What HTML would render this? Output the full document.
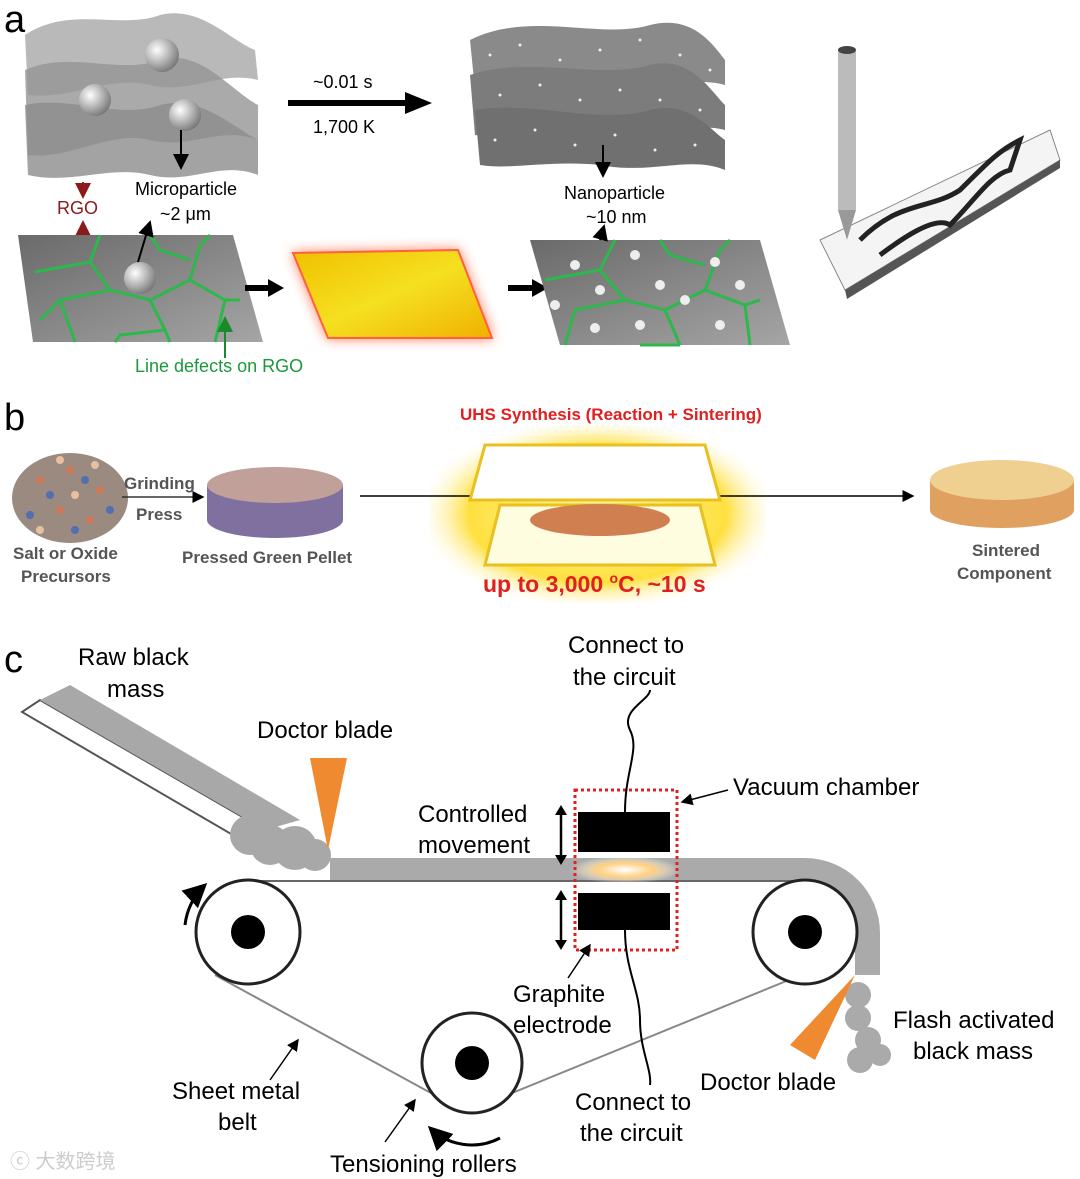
<!DOCTYPE html>
<html><head><meta charset="utf-8"><style>
html,body{margin:0;padding:0;background:#fff;}
svg{display:block;font-family:"Liberation Sans",Arial,sans-serif;}
</style></head><body>
<svg width="1080" height="1179" viewBox="0 0 1080 1179" xmlns="http://www.w3.org/2000/svg">
<defs>
<marker id="ah" markerWidth="8" markerHeight="8" refX="7" refY="4" orient="auto"><path d="M0,0 L8,4 L0,8 z" fill="#000"/></marker>
<marker id="ahr" markerWidth="8" markerHeight="8" refX="7" refY="4" orient="auto"><path d="M0,0 L8,4 L0,8 z" fill="#8b1a1a"/></marker>
<marker id="ahg" markerWidth="8" markerHeight="8" refX="7" refY="4" orient="auto"><path d="M0,0 L8,4 L0,8 z" fill="#1a8a2a"/></marker>
<radialGradient id="sph" cx="35%" cy="35%" r="70%"><stop offset="0" stop-color="#fff"/><stop offset="1" stop-color="#777"/></radialGradient>
<radialGradient id="glow" cx="50%" cy="50%" r="55%"><stop offset="0" stop-color="#fff8a0"/><stop offset="0.7" stop-color="#ffe040"/><stop offset="1" stop-color="#fff" stop-opacity="0"/></radialGradient>
<radialGradient id="spark" cx="50%" cy="50%" r="50%"><stop offset="0" stop-color="#fff"/><stop offset="0.5" stop-color="#ffd080"/><stop offset="1" stop-color="#fff" stop-opacity="0"/></radialGradient>
<linearGradient id="yel" x1="0" y1="0" x2="1" y2="1"><stop offset="0" stop-color="#f0c000"/><stop offset="0.5" stop-color="#f5e020"/><stop offset="1" stop-color="#f0b000"/></linearGradient>
<linearGradient id="gry" x1="0" y1="0" x2="1" y2="1"><stop offset="0" stop-color="#6a6a6a"/><stop offset="1" stop-color="#a5a5a5"/></linearGradient>
</defs>

<!-- Panel a -->
<text x="4" y="32" font-size="38">a</text>
<!-- left sheets -->
<path d="M25,35 C70,5 120,30 160,15 C200,5 230,40 255,50 L258,80 C220,70 190,95 150,85 C110,75 70,100 28,95 Z" fill="#a8a8a8" opacity="0.8"/>
<path d="M25,70 C70,50 120,75 160,60 C200,48 230,90 258,105 L258,140 C220,125 190,150 150,140 C110,130 70,160 28,155 Z" fill="#959595" opacity="0.8"/>
<path d="M25,105 C70,95 120,120 160,105 C200,95 230,125 258,140 L258,175 C220,160 190,185 150,175 C110,165 70,185 28,175 Z" fill="#8c8c8c" opacity="0.8"/>
<circle cx="162" cy="55" r="17" fill="url(#sph)"/>
<circle cx="95" cy="100" r="16" fill="url(#sph)"/>
<circle cx="185" cy="115" r="16" fill="url(#sph)"/>
<line x1="181" y1="130" x2="181" y2="168" stroke="#000" stroke-width="2" marker-end="url(#ah)"/>
<line x1="83" y1="182" x2="83" y2="197" stroke="#8b1a1a" stroke-width="2" marker-end="url(#ahr)"/>
<line x1="83" y1="248" x2="83" y2="222" stroke="#8b1a1a" stroke-width="2" marker-end="url(#ahr)"/>
<text x="57" y="214" font-size="18" fill="#8b1a1a">RGO</text>
<text x="135" y="195" font-size="18">Microparticle</text>
<text x="160" y="220" font-size="18">~2 μm</text>
<!-- left parallelogram -->
<polygon points="18,235 233,235 263,342 33,342" fill="url(#gry)"/>
<g stroke="#2cb84a" stroke-width="3" fill="none">
<path d="M35,272 L90,262 L100,235 M90,262 L110,290 L60,300 L40,320 M110,290 L150,300 L165,330 L170,342 M150,300 L190,280 L200,245 L210,235 M190,280 L225,300 L240,300 M160,250 L150,235 M160,250 L190,260 M60,300 L75,342 M165,330 L120,335 L115,342 M225,300 L215,342"/>
</g>
<circle cx="140" cy="278" r="16" fill="url(#sph)"/>
<line x1="138" y1="262" x2="150" y2="222" stroke="#000" stroke-width="2" marker-end="url(#ah)"/>
<line x1="225" y1="358" x2="225" y2="318" stroke="#1a8a2a" stroke-width="2" marker-end="url(#ahg)"/>
<text x="135" y="372" font-size="18" fill="#1a9a3a">Line defects on RGO</text>
<!-- arrows -->
<line x1="245" y1="288" x2="270" y2="288" stroke="#000" stroke-width="6"/><polygon points="268,279 284,288 268,297" fill="#000"/>
<line x1="288" y1="103" x2="410" y2="103" stroke="#000" stroke-width="6"/><polygon points="405,92 432,103 405,114" fill="#000"/>
<text x="313" y="88" font-size="18">~0.01 s</text>
<text x="313" y="133" font-size="18">1,700 K</text>
<!-- yellow -->
<polygon points="293,253 458,250 492,338 328,338" fill="url(#yel)" stroke="#ff6040" stroke-width="2" style="filter:drop-shadow(0 0 6px #ff8060)"/>
<line x1="508" y1="288" x2="535" y2="288" stroke="#000" stroke-width="6"/><polygon points="532,279 548,288 532,297" fill="#000"/>
<!-- right sheets -->
<path d="M470,40 C530,10 600,40 650,25 C690,15 710,40 725,60 L725,85 C690,75 650,95 600,85 C550,75 510,95 475,90 Z" fill="#8a8a8a"/>
<path d="M470,75 C530,55 600,80 650,65 C690,55 710,90 725,105 L725,130 C690,120 650,145 600,130 C550,120 510,140 475,135 Z" fill="#7c7c7c"/>
<path d="M475,110 C530,100 600,125 650,110 C690,100 710,130 725,140 L725,170 C690,155 650,175 600,165 C550,160 510,170 480,165 Z" fill="#707070"/>
<g fill="#eee">
<circle cx="490" cy="55" r="1.5"/><circle cx="520" cy="45" r="1.5"/><circle cx="560" cy="60" r="1.5"/><circle cx="600" cy="50" r="1.5"/><circle cx="640" cy="40" r="1.5"/><circle cx="680" cy="55" r="1.5"/><circle cx="710" cy="70" r="1.5"/>
<circle cx="500" cy="95" r="1.5"/><circle cx="540" cy="85" r="1.5"/><circle cx="580" cy="100" r="1.5"/><circle cx="620" cy="90" r="1.5"/><circle cx="660" cy="100" r="1.5"/><circle cx="700" cy="110" r="1.5"/>
<circle cx="495" cy="140" r="1.5"/><circle cx="535" cy="130" r="1.5"/><circle cx="575" cy="145" r="1.5"/><circle cx="615" cy="135" r="1.5"/><circle cx="655" cy="150" r="1.5"/><circle cx="695" cy="145" r="1.5"/>
</g>
<line x1="603" y1="145" x2="603" y2="176" stroke="#000" stroke-width="2" marker-end="url(#ah)"/>
<text x="564" y="199" font-size="18">Nanoparticle</text>
<text x="586" y="223" font-size="18">~10 nm</text>
<polygon points="530,240 760,240 790,345 560,345" fill="url(#gry)"/>
<g stroke="#2cb84a" stroke-width="3" fill="none">
<path d="M545,280 L600,270 L615,240 M600,270 L625,300 L575,310 L565,345 M625,300 L665,310 L680,345 M665,310 L705,290 L720,250 L730,240 M705,290 L745,305 L760,300 M670,255 L660,240 M670,255 L705,265 M680,345 L640,345 M745,305 L750,345"/>
</g>
<g fill="#eee"><circle cx="575" cy="265" r="5"/><circle cx="635" cy="255" r="5"/><circle cx="715" cy="262" r="5"/><circle cx="600" cy="290" r="5"/><circle cx="660" cy="285" r="5"/><circle cx="685" cy="300" r="5"/><circle cx="740" cy="285" r="5"/><circle cx="595" cy="328" r="5"/><circle cx="640" cy="325" r="5"/><circle cx="720" cy="325" r="5"/><circle cx="555" cy="305" r="5"/></g>
<line x1="600" y1="240" x2="604" y2="226" stroke="#000" stroke-width="2" marker-end="url(#ah)"/>
<!-- pen -->
<polygon points="820,240 1050,130 1060,160 845,290" fill="#f4f4f4" stroke="#888"/>
<polygon points="845,290 1060,160 1060,168 847,299" fill="#555"/>
<path d="M860,240 C900,200 930,210 960,190 C990,160 1000,150 1020,140 L1010,170 C990,175 975,200 950,225 C935,215 900,240 880,255" fill="none" stroke="#222" stroke-width="5"/>
<rect x="838" y="50" width="18" height="160" fill="#bbb"/>
<polygon points="838,210 856,210 847,240" fill="#999"/>
<ellipse cx="847" cy="50" rx="9" ry="4" fill="#444"/>

<!-- Panel b -->
<text x="4" y="430" font-size="38">b</text>
<g>
<ellipse cx="70" cy="498" rx="58" ry="45" fill="#9a8a80"/>
<g fill="#d0785a"><circle cx="40" cy="480" r="4"/><circle cx="70" cy="470" r="4"/><circle cx="100" cy="490" r="4"/><circle cx="60" cy="510" r="4"/><circle cx="90" cy="520" r="4"/></g>
<g fill="#5070b0"><circle cx="50" cy="495" r="4"/><circle cx="85" cy="480" r="4"/><circle cx="30" cy="515" r="4"/><circle cx="110" cy="510" r="4"/><circle cx="75" cy="530" r="4"/></g>
<g fill="#e8c0a0"><circle cx="60" cy="460" r="4"/><circle cx="95" cy="465" r="4"/><circle cx="40" cy="530" r="4"/><circle cx="75" cy="495" r="4"/></g>
</g>
<text x="124" y="489" font-size="17" font-weight="bold" fill="#555">Grinding</text>
<text x="136" y="520" font-size="17" font-weight="bold" fill="#555">Press</text>
<line x1="122" y1="497" x2="203" y2="497" stroke="#333" stroke-width="1.5" marker-end="url(#ah)"/>
<text x="13" y="559" font-size="17" font-weight="bold" fill="#555">Salt or Oxide</text>
<text x="21" y="582" font-size="17" font-weight="bold" fill="#555">Precursors</text>
<path d="M207,485 L207,520 A68,18 0 0 0 343,520 L343,485 Z" fill="#8070a0"/>
<ellipse cx="275" cy="485" rx="68" ry="18" fill="#c0a098"/>
<text x="182" y="563" font-size="17" font-weight="bold" fill="#555">Pressed Green Pellet</text>
<rect x="430" y="425" width="335" height="178" fill="url(#glow)"/>
<line x1="360" y1="496" x2="913" y2="496" stroke="#000" stroke-width="1.5" marker-end="url(#ah)"/>
<polygon points="485,445 705,445 720,500 470,500" fill="#fff" stroke="#e8c020" stroke-width="3"/>
<polygon points="500,505 700,505 715,565 485,565" fill="#fffde0" stroke="#e8c020" stroke-width="3"/>
<ellipse cx="600" cy="520" rx="70" ry="16" fill="#d08050"/>
<text x="460" y="420" font-size="17" font-weight="bold" fill="#e02020">UHS Synthesis (Reaction + Sintering)</text>
<text x="483" y="592" font-size="23" font-weight="bold" fill="#e02020">up to 3,000 <tspan font-size="14" dy="-9">o</tspan><tspan dy="9">C, ~10 s</tspan></text>
<path d="M930,480 L930,510 A72,18 0 0 0 1074,510 L1074,480 Z" fill="#e0a060"/>
<ellipse cx="1002" cy="480" rx="72" ry="20" fill="#f0d090"/>
<text x="972" y="556" font-size="17" font-weight="bold" fill="#555">Sintered</text>
<text x="957" y="579" font-size="17" font-weight="bold" fill="#555">Component</text>

<!-- Panel c -->
<text x="4" y="672" font-size="38">c</text>
<text x="78" y="665" font-size="24">Raw black</text>
<text x="107" y="697" font-size="24">mass</text>
<polygon points="22,712 40,700 265,830 250,845" fill="#fff" stroke="#555" stroke-width="2"/>
<polygon points="40,700 70,685 300,820 265,830" fill="#a8a8a8"/>
<g fill="#a8a8a8"><circle cx="250" cy="835" r="20"/><circle cx="270" cy="845" r="20"/><circle cx="295" cy="848" r="22"/><circle cx="315" cy="855" r="16"/></g>
<text x="257" y="738" font-size="24">Doctor blade</text>
<polygon points="310,758 347,758 328,850" fill="#f08a30"/>
<!-- belt -->
<path d="M330,858 L805,858 A75,75 0 0 1 880,933 L880,975 L855,975 L855,933 A50,50 0 0 0 805,882 L330,882 Z" fill="#aaa"/>
<line x1="248" y1="881" x2="805" y2="881" stroke="#666" stroke-width="2"/>
<line x1="215" y1="975" x2="440" y2="1098" stroke="#888" stroke-width="2"/>
<line x1="850" y1="955" x2="500" y2="1098" stroke="#888" stroke-width="2"/>
<circle cx="248" cy="932" r="52" fill="#fff" stroke="#222" stroke-width="3"/><circle cx="248" cy="932" r="17" fill="#000"/>
<circle cx="805" cy="932" r="52" fill="#fff" stroke="#222" stroke-width="3"/><circle cx="805" cy="932" r="17" fill="#000"/>
<circle cx="472" cy="1063" r="50" fill="#fff" stroke="#222" stroke-width="3"/><circle cx="472" cy="1063" r="17" fill="#000"/>
<path d="M185,925 A65,65 0 0 1 205,885" fill="none" stroke="#000" stroke-width="3" marker-end="url(#ah)"/>
<path d="M500,1138 A60,60 0 0 1 430,1128" fill="none" stroke="#000" stroke-width="3" marker-end="url(#ah)"/>
<!-- electrodes -->
<ellipse cx="625" cy="870" rx="55" ry="14" fill="url(#spark)"/>
<rect x="578" y="812" width="92" height="40" fill="#000"/>
<rect x="578" y="893" width="92" height="37" fill="#000"/>
<rect x="575" y="790" width="102" height="160" fill="none" stroke="#e02020" stroke-width="3" stroke-dasharray="3,3"/>
<path d="M625,812 C625,770 640,750 630,730 C620,710 650,700 650,690" fill="none" stroke="#000" stroke-width="2"/>
<path d="M625,930 C625,970 640,990 640,1020 C640,1050 652,1070 650,1085" fill="none" stroke="#000" stroke-width="2"/>
<text x="568" y="653" font-size="24">Connect to</text>
<text x="573" y="685" font-size="24">the circuit</text>
<text x="733" y="795" font-size="24">Vacuum chamber</text>
<line x1="728" y1="790" x2="682" y2="802" stroke="#000" stroke-width="1.5" marker-end="url(#ah)"/>
<text x="418" y="822" font-size="24">Controlled</text>
<text x="418" y="853" font-size="24">movement</text>
<line x1="561" y1="812" x2="561" y2="858" stroke="#000" stroke-width="2.5"/><polygon points="555,815 561,805 567,815" fill="#000"/><polygon points="555,855 561,865 567,855" fill="#000"/>
<line x1="561" y1="897" x2="561" y2="942" stroke="#000" stroke-width="2.5"/><polygon points="555,900 561,890 567,900" fill="#000"/><polygon points="555,940 561,950 567,940" fill="#000"/>
<line x1="568" y1="978" x2="590" y2="945" stroke="#000" stroke-width="1.5" marker-end="url(#ah)"/>
<text x="513" y="1002" font-size="24">Graphite</text>
<text x="513" y="1033" font-size="24">electrode</text>
<g fill="#aaa"><circle cx="858" cy="995" r="13"/><circle cx="858" cy="1018" r="13"/><circle cx="868" cy="1040" r="13"/><circle cx="860" cy="1060" r="13"/><circle cx="880" cy="1055" r="11"/></g>
<polygon points="855,975 790,1045 815,1060" fill="#f08a30"/>
<text x="893" y="1028" font-size="24">Flash activated</text>
<text x="913" y="1059" font-size="24">black mass</text>
<text x="700" y="1090" font-size="24">Doctor blade</text>
<text x="575" y="1110" font-size="24">Connect to</text>
<text x="580" y="1141" font-size="24">the circuit</text>
<line x1="270" y1="1080" x2="298" y2="1040" stroke="#000" stroke-width="1.5" marker-end="url(#ah)"/>
<text x="172" y="1099" font-size="24">Sheet metal</text>
<text x="218" y="1130" font-size="24">belt</text>
<line x1="385" y1="1142" x2="415" y2="1100" stroke="#000" stroke-width="1.5" marker-end="url(#ah)"/>
<text x="330" y="1172" font-size="24">Tensioning rollers</text>
<text x="10" y="1168" font-size="20" fill="#ccc" font-family="'Liberation Sans','Noto Sans CJK SC',sans-serif">ⓒ 大数跨境</text>
</svg>
</body></html>
